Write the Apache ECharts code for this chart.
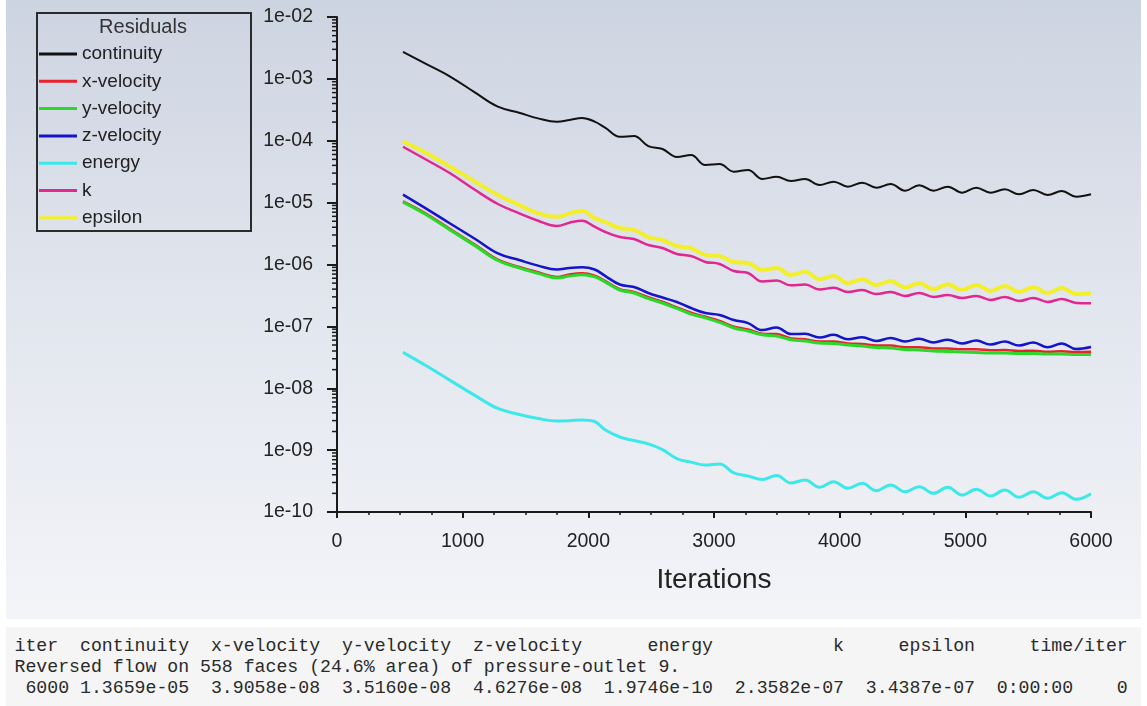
<!DOCTYPE html>
<html>
<head>
<meta charset="utf-8">
<script src="https://cdn.jsdelivr.net/npm/echarts@6/dist/echarts.min.js"></script>
<style>
  html, body { margin: 0; padding: 0; background: #ffffff; width: 1147px; height: 706px; overflow: hidden; }
  #plot {
    position: absolute; left: 6px; top: 0; width: 1135px; height: 619px;
    background: linear-gradient(to bottom, #cdd4e1 0%, #e2e6ee 50%, #f3f4f8 100%);
  }
  #console {
    position: absolute; left: 6px; top: 627px; width: 1135px; height: 79px;
    background: #f5f5f5;
  }
  #console pre {
    margin: 0; padding: 9px 0 0 8.5px;
    font-family: "Liberation Mono", "DejaVu Sans Mono", monospace;
    font-size: 18.19px; line-height: 21px; color: #2a2a2a;
  }
</style>
</head>
<body>
<div id="plot"></div>
<div id="console"><pre id="log"></pre></div>
<script>
// Iteration numbers at which the residual history is sampled
const iters = [525, 700, 900, 1100, 1280, 1450, 1600, 1750, 1850, 1950,
  2050, 2136, 2250, 2363, 2477, 2590, 2704, 2817, 2931, 3044,
  3158, 3271, 3385, 3498, 3612, 3725, 3839, 3952, 4066, 4179,
  4293, 4406, 4520, 4633, 4747, 4860, 4974, 5087, 5201, 5314,
  5428, 5541, 5655, 5768, 5882, 6000];

const continuity = [2.72e-3, 1.78e-3, 1.09e-3, 5.98e-4, 3.55e-4, 2.84e-4, 2.3e-4, 2.03e-4, 2.16e-4, 2.33e-4,
  2.04e-4, 1.61e-4, 1.16e-4, 1.19e-4, 8.2e-5, 7.36e-5, 5.46e-5, 5.88e-5, 4.05e-5, 4.2e-5,
  3.16e-5, 3.37e-5, 2.41e-5, 2.62e-5, 2.24e-5, 2.41e-5, 1.93e-5, 2.18e-5, 1.81e-5, 2.1e-5,
  1.74e-5, 2.0e-5, 1.56e-5, 1.91e-5, 1.56e-5, 1.81e-5, 1.45e-5, 1.74e-5, 1.45e-5, 1.64e-5,
  1.36e-5, 1.6e-5, 1.33e-5, 1.54e-5, 1.25e-5, 1.3659e-5];

const xVelocity = [1.05e-5, 6.8e-6, 3.75e-6, 2.08e-6, 1.2e-6, 9.1e-7, 7.5e-7, 6.3e-7, 6.9e-7, 7.2e-7,
  6.6e-7, 5.4e-7, 4.0e-7, 3.6e-7, 2.95e-7, 2.5e-7, 2.03e-7, 1.66e-7, 1.43e-7, 1.22e-7,
  9.9e-8, 8.9e-8, 7.6e-8, 7.5e-8, 6.4e-8, 6.2e-8, 5.7e-8, 5.7e-8, 5.3e-8, 5.2e-8,
  4.9e-8, 4.9e-8, 4.6e-8, 4.6e-8, 4.4e-8, 4.4e-8, 4.25e-8, 4.25e-8, 4.1e-8, 4.15e-8,
  4.0e-8, 4.05e-8, 3.9e-8, 3.95e-8, 3.85e-8, 3.9058e-8];

const yVelocity = [1.02e-5, 6.55e-6, 3.62e-6, 2.0e-6, 1.16e-6, 8.8e-7, 7.2e-7, 6.05e-7, 6.5e-7, 6.8e-7,
  6.3e-7, 5.2e-7, 3.87e-7, 3.46e-7, 2.82e-7, 2.39e-7, 1.95e-7, 1.58e-7, 1.37e-7, 1.16e-7,
  9.4e-8, 8.4e-8, 7.3e-8, 7.0e-8, 6.1e-8, 5.8e-8, 5.4e-8, 5.3e-8, 5.0e-8, 4.8e-8,
  4.56e-8, 4.48e-8, 4.23e-8, 4.15e-8, 4.0e-8, 3.93e-8, 3.85e-8, 3.78e-8, 3.71e-8, 3.71e-8,
  3.65e-8, 3.65e-8, 3.58e-8, 3.58e-8, 3.52e-8, 3.516e-8];

const zVelocity = [1.35e-5, 8.24e-6, 4.6e-6, 2.58e-6, 1.51e-6, 1.18e-6, 9.6e-7, 8.3e-7, 8.8e-7, 9.0e-7,
  8.3e-7, 6.5e-7, 4.75e-7, 4.33e-7, 3.46e-7, 2.93e-7, 2.48e-7, 1.98e-7, 1.64e-7, 1.53e-7,
  1.27e-7, 1.13e-7, 8.7e-8, 9.6e-8, 7.5e-8, 7.6e-8, 6.6e-8, 7.3e-8, 6.2e-8, 6.7e-8,
  5.8e-8, 6.5e-8, 5.7e-8, 6.3e-8, 5.5e-8, 6.1e-8, 5.3e-8, 5.9e-8, 5.1e-8, 5.7e-8,
  4.9e-8, 5.5e-8, 4.6e-8, 5.3e-8, 4.3e-8, 4.6276e-8];

const energy = [3.8e-8, 2.37e-8, 1.34e-8, 7.6e-9, 4.71e-9, 3.77e-9, 3.24e-9, 2.96e-9, 2.99e-9, 3.07e-9,
  2.9e-9, 2.11e-9, 1.63e-9, 1.43e-9, 1.26e-9, 1.02e-9, 7.3e-10, 6.4e-10, 5.75e-10, 5.97e-10,
  4.27e-10, 3.82e-10, 3.35e-10, 3.89e-10, 2.94e-10, 3.29e-10, 2.51e-10, 3.09e-10, 2.42e-10, 2.91e-10,
  2.21e-10, 2.73e-10, 2.13e-10, 2.56e-10, 2.0e-10, 2.51e-10, 1.88e-10, 2.33e-10, 1.82e-10, 2.27e-10,
  1.73e-10, 2.13e-10, 1.67e-10, 2.05e-10, 1.6e-10, 1.9746e-10];

const kResidual = [8.0e-5, 5.07e-5, 2.98e-5, 1.6e-5, 9.5e-6, 6.7e-6, 5.1e-6, 4.19e-6, 4.74e-6, 5.1e-6,
  4.08e-6, 3.35e-6, 2.78e-6, 2.58e-6, 2.07e-6, 1.85e-6, 1.48e-6, 1.37e-6, 1.1e-6, 1.02e-6,
  7.85e-7, 7.3e-7, 5.3e-7, 5.5e-7, 4.6e-7, 4.75e-7, 3.95e-7, 4.2e-7, 3.6e-7, 3.87e-7,
  3.33e-7, 3.6e-7, 3.1e-7, 3.46e-7, 2.99e-7, 3.21e-7, 2.88e-7, 3.1e-7, 2.67e-7, 2.99e-7,
  2.57e-7, 2.88e-7, 2.48e-7, 2.77e-7, 2.39e-7, 2.3582e-7];

const epsilon = [9.8e-5, 6.5e-5, 3.81e-5, 2.18e-5, 1.33e-5, 9.2e-6, 6.7e-6, 5.9e-6, 6.7e-6, 7.4e-6,
  5.6e-6, 4.86e-6, 3.89e-6, 3.63e-6, 2.78e-6, 2.49e-6, 1.99e-6, 1.85e-6, 1.43e-6, 1.37e-6,
  1.1e-6, 1.06e-6, 8.1e-7, 8.8e-7, 6.8e-7, 7.6e-7, 5.8e-7, 6.5e-7, 5.0e-7, 5.8e-7,
  4.67e-7, 5.4e-7, 4.3e-7, 5.0e-7, 4.0e-7, 4.8e-7, 3.87e-7, 4.67e-7, 3.73e-7, 4.5e-7,
  3.6e-7, 4.3e-7, 3.46e-7, 4.17e-7, 3.33e-7, 3.4387e-7];

const seriesNames = ['continuity', 'x-velocity', 'y-velocity', 'z-velocity', 'energy', 'k', 'epsilon'];
const seriesValues = [continuity, xVelocity, yVelocity, zVelocity, energy, kResidual, epsilon];
const seriesColors = ['#111111', '#e8222a', '#2ad82a', '#1414c8', '#3de8ea', '#e0288e', '#f2ef2c'];
const seriesWidths = [2, 2.5, 3, 2.5, 3, 2.5, 4];

const xTicks = [0, 1000, 2000, 3000, 4000, 5000, 6000];
const yDecades = [-10, -9, -8, -7, -6, -5, -4, -3, -2];

const FONT = '"Liberation Sans", Arial, sans-serif';
const AXIS_COLOR = '#1a1a1a';

// minor ticks of the logarithmic axis: 2..9 times each decade
const minorTickValues = [];
yDecades.slice(0, -1).forEach(d => {
  for (let m = 2; m <= 9; m++) minorTickValues.push(m * Math.pow(10, d));
});

function fmtExp(v) {
  const e = Math.round(-Math.log10(v));
  return '1e-' + String(e).padStart(2, '0');
}

const chart = echarts.init(document.getElementById('plot'), null, { renderer: 'canvas' });

const series = seriesNames.map((name, i) => ({
  name,
  type: 'line',
  xAxisIndex: 0,
  yAxisIndex: 0,
  data: iters.map((it, j) => [it, seriesValues[i][j]]),
  showSymbol: false,
  smooth: 0.4,
  lineStyle: { color: seriesColors[i], width: seriesWidths[i] },
  itemStyle: { color: seriesColors[i] },
  emphasis: { disabled: true },
  animation: false,
  z: 2 + i
}));

// short outward strokes at the minor tick values, placed through the y scale
series.push({
  name: 'minor-ticks',
  type: 'custom',
  xAxisIndex: 0,
  yAxisIndex: 0,
  silent: true,
  clip: false,
  z: 1,
  data: minorTickValues.map(v => [xTicks[0], v]),
  renderItem: (params, api) => {
    const p = api.coord([api.value(0), api.value(1)]);
    return {
      type: 'line',
      shape: { x1: p[0] - 5, y1: p[1], x2: p[0], y2: p[1] },
      style: { stroke: AXIS_COLOR, lineWidth: 1.5 }
    };
  }
});

chart.setOption({
  animation: false,
  backgroundColor: 'transparent',
  grid: { left: 331, top: 17, width: 754, height: 495, containLabel: false },
  legend: {
    data: seriesNames,
    orient: 'vertical',
    left: 33,
    top: 44,
    padding: 0,
    icon: 'rect',
    itemWidth: 38,
    itemHeight: 3,
    itemGap: 7.3,
    selectedMode: false,
    textStyle: { fontFamily: FONT, fontSize: 19, color: '#222', lineHeight: 20 }
  },
  graphic: [
    {
      type: 'rect',
      shape: { x: 31, y: 13, width: 214, height: 218 },
      style: { fill: 'transparent', stroke: '#2b2b2b', lineWidth: 2 },
      silent: true
    },
    {
      type: 'text',
      x: 137, y: 27,
      style: {
        text: 'Residuals', fill: '#333', font: '20px ' + FONT,
        align: 'center', verticalAlign: 'middle'
      },
      silent: true
    }
  ],
  xAxis: {
    type: 'value',
    min: xTicks[0],
    max: xTicks[xTicks.length - 1],
    interval: 1000,
    name: 'Iterations',
    nameLocation: 'middle',
    nameGap: 54,
    nameTextStyle: { fontFamily: FONT, fontSize: 28, color: '#222' },
    axisLine: { show: true, onZero: false, lineStyle: { color: AXIS_COLOR, width: 2 } },
    axisTick: { show: true, length: 6, lineStyle: { color: AXIS_COLOR, width: 2 } },
    minorTick: { show: true, splitNumber: 4, length: 3, lineStyle: { color: AXIS_COLOR, width: 1.5 } },
    axisLabel: { fontFamily: FONT, fontSize: 19.5, color: '#222', margin: 20, formatter: v => String(v) },
    splitLine: { show: false },
    minorSplitLine: { show: false }
  },
  yAxis: {
    type: 'log',
    logBase: 10,
    position: 'left',
    min: Math.pow(10, yDecades[0]),
    max: Math.pow(10, yDecades[yDecades.length - 1]),
    splitNumber: 8,
    axisLine: { show: true, onZero: false, lineStyle: { color: AXIS_COLOR, width: 2 } },
    axisTick: { show: true, length: 10, lineStyle: { color: AXIS_COLOR, width: 2 } },
    axisLabel: { fontFamily: FONT, fontSize: 19.5, color: '#222', margin: 24, formatter: fmtExp },
    splitLine: { show: false }
  },
  series
});

// console output below the plot: header, message and last-iteration residuals
const fmtRes = v => v.toExponential(4).replace(/e([+-])(\d)$/, 'e$10$2');
const lastValues = seriesValues.map(a => a[a.length - 1]);
const lastIter = iters[iters.length - 1];
const header = 'iter  continuity  x-velocity  y-velocity  z-velocity      energy           k     epsilon     time/iter';
const message = 'Reversed flow on 558 faces (24.6% area) of pressure-outlet 9.';
const row = ' ' + String(lastIter).padStart(4, ' ') + ' ' + lastValues.map(fmtRes).join('  ') + '  0:00:00    0';
document.getElementById('log').textContent = header + '\n' + message + '\n' + row;
</script>
</body>
</html>
